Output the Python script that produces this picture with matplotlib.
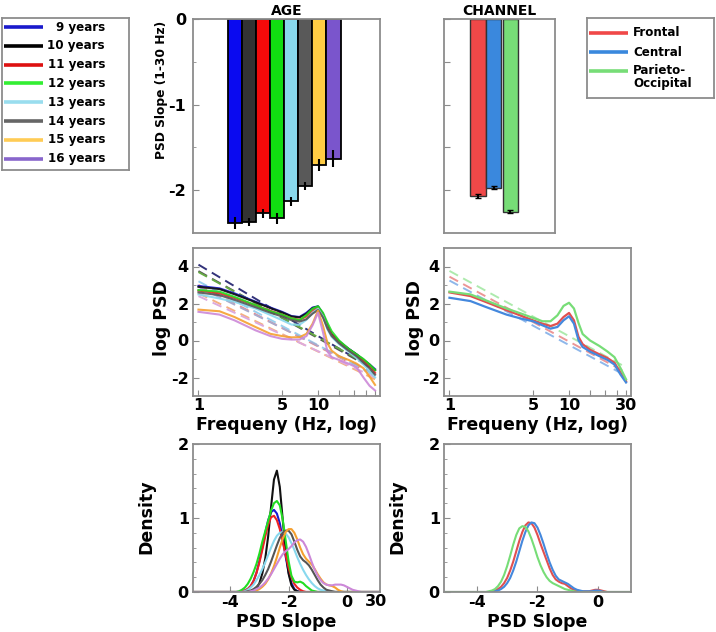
import numpy as np
import matplotlib
matplotlib.use("Agg")
import matplotlib.pyplot as plt

plt.rcParams["font.family"] = ["DejaVu Sans"]
plt.rcParams["font.weight"] = "bold"
plt.rcParams["axes.unicode_minus"] = False

# ---- top bar charts: PSD slope (1-30 Hz) ----
age_labels = ["9 years", "10 years", "11 years", "12 years",
              "13 years", "14 years", "15 years", "16 years"]
age_slope = [-2.38, -2.37, -2.27, -2.33, -2.13, -1.95, -1.70, -1.63]
age_err = [0.07, 0.05, 0.05, 0.06, 0.05, 0.05, 0.07, 0.10]

chan_labels = ["Frontal", "Central", "Parieto-\nOccipital"]
chan_slope = [-2.07, -1.97, -2.25]
chan_err = [0.02, 0.02, 0.02]

# ---- middle: log PSD vs frequency ----
freqs = [1, 1.5, 2, 3, 4, 5, 6, 7, 8, 9, 10, 11, 12, 13, 15, 18, 21, 24, 27, 30]
age_psd = [
    [2.95, 2.82, 2.55, 2.10, 1.78, 1.55, 1.32, 1.27, 1.50, 1.78, 1.85, 1.45, 0.80, 0.35, -0.05, -0.45, -0.75, -1.05, -1.30, -1.55],
    [2.90, 2.78, 2.50, 2.07, 1.75, 1.52, 1.30, 1.25, 1.45, 1.75, 1.83, 1.40, 0.78, 0.33, -0.05, -0.45, -0.75, -1.05, -1.30, -1.60],
    [2.70, 2.55, 2.30, 1.90, 1.60, 1.40, 1.20, 1.12, 1.30, 1.62, 1.75, 1.35, 0.72, 0.30, -0.10, -0.50, -0.80, -1.10, -1.40, -1.75],
    [2.73, 2.64, 2.36, 1.91, 1.58, 1.40, 1.20, 1.10, 1.38, 1.72, 1.85, 1.50, 0.95, 0.50, 0.00, -0.45, -0.75, -1.00, -1.30, -1.60],
    [2.49, 2.27, 2.09, 1.73, 1.38, 1.10, 0.86, 0.85, 1.12, 1.50, 1.72, 1.30, 0.60, 0.20, -0.20, -0.60, -0.95, -1.30, -1.65, -2.00],
    [2.60, 2.45, 2.20, 1.80, 1.50, 1.30, 1.10, 1.02, 1.15, 1.45, 1.65, 1.25, 0.65, 0.25, -0.15, -0.55, -0.85, -1.20, -1.50, -1.85],
    [1.67, 1.58, 1.27, 0.73, 0.36, 0.24, 0.17, 0.18, 0.36, 0.90, 1.62, 0.80, -0.15, -0.55, -0.85, -1.05, -1.25, -1.50, -1.95, -2.40],
    [1.55, 1.40, 1.09, 0.55, 0.24, 0.09, 0.05, 0.05, 0.24, 0.82, 1.50, 0.45, -0.60, -0.90, -1.05, -1.25, -1.45, -2.00, -2.45, -2.70],
]
age_fit_start = [4.10, 3.75, 3.00, 3.70, 3.20, 2.90, 2.55, 2.40]
age_fit_end = [-1.60, -1.60, -1.90, -1.50, -1.90, -1.80, -2.10, -2.00]

chan_psd = [
    [2.60, 2.40, 2.09, 1.64, 1.33, 1.09, 0.91, 0.78, 0.91, 1.27, 1.49, 1.09, 0.20, -0.20, -0.50, -0.75, -0.95, -1.20, -1.75, -2.20],
    [2.31, 2.13, 1.82, 1.40, 1.18, 1.04, 0.82, 0.64, 0.73, 1.09, 1.31, 0.91, 0.02, -0.35, -0.60, -0.85, -1.05, -1.30, -1.85, -2.27],
    [2.64, 2.49, 2.18, 1.73, 1.45, 1.22, 1.04, 1.04, 1.36, 1.87, 2.04, 1.73, 0.95, 0.35, 0.00, -0.30, -0.60, -0.90, -1.50, -2.10],
]
chan_fit_start = [3.45, 3.24, 3.76]
chan_fit_end = [-1.73, -1.91, -1.45]

# ---- bottom: density of PSD slope ----
dens_x = np.round(np.arange(-3.8, 0.65, 0.1), 1)
age_dens = [
    [0, 0, .01, .02, .04, .08, .15, .26, .42, .60, .80, .97, 1.08, 1.11, 1.06, .93, .72, .48, .27, .12, .04, .01,
     0, 0, 0, 0, 0, 0, 0, 0, 0, 0, 0, 0, 0, 0, 0, 0, 0, 0, 0, 0, 0, 0, 0],
    [0, 0, 0, 0, 0, 0, .02, .05, .12, .25, .45, .75, 1.15, 1.52, 1.64, 1.42, .98, .55, .25, .09, .03, .01,
     0, 0, 0, 0, 0, 0, 0, 0, 0, 0, 0, 0, 0, 0, 0, 0, 0, 0, 0, 0, 0, 0, 0],
    [0, 0, .01, .02, .04, .08, .15, .26, .40, .57, .75, .91, 1.01, 1.03, .97, .85, .68, .50, .33, .20, .11, .06,
     .03, .01, 0, 0, 0, 0, 0, 0, 0, 0, 0, 0, 0, 0, 0, 0, 0, 0, 0, 0, 0, 0, 0],
    [0, .01, .03, .06, .11, .18, .27, .38, .52, .68, .82, .96, 1.10, 1.20, 1.23, 1.17, .98, .70, .42, .22, .14, .13,
     .14, .12, .08, .05, .02, .01, 0, 0, 0, 0, 0, 0, 0, 0, 0, 0, 0, 0, 0, 0, 0, 0, 0],
    [0, 0, 0, .01, .03, .06, .10, .16, .23, .31, .40, .50, .60, .69, .76, .80, .81, .79, .74, .66, .57, .47,
     .38, .30, .23, .17, .12, .08, .05, .03, .02, .01, 0, 0, 0, 0, 0, 0, 0, 0, 0, 0, 0, 0, 0],
    [0, 0, 0, 0, .01, .02, .04, .07, .11, .16, .23, .31, .41, .52, .63, .73, .80, .83, .83, .78, .68, .57,
     .48, .43, .40, .36, .30, .23, .16, .10, .06, .03, .02, .01, 0, 0, 0, 0, 0, 0, 0, 0, 0, 0, 0],
    [0, 0, 0, 0, 0, 0, .01, .02, .04, .07, .11, .17, .25, .35, .47, .60, .72, .81, .85, .85, .80, .71,
     .60, .51, .45, .41, .37, .31, .24, .18, .13, .10, .09, .08, .06, .03, .01, 0, 0, 0, 0, 0, 0, 0, 0],
    [0, 0, 0, 0, 0, .01, .02, .04, .06, .09, .13, .18, .24, .31, .38, .45, .51, .55, .58, .62, .67, .70,
     .71, .68, .61, .51, .40, .30, .22, .16, .12, .10, .09, .09, .10, .10, .10, .09, .07, .05, .03, .02, .01, 0, 0],
]
chan_dens = [
    [0, 0, 0, .01, .02, .04, .07, .12, .19, .29, .41, .55, .69, .81, .90, .94, .93, .87, .77, .65, .54, .43,
     .32, .23, .17, .14, .12, .11, .08, .05, .03, .02, .01, .01, .01, .01, .02, .03, .03, .02, .01, 0, 0, 0, 0],
    [0, 0, 0, 0, .01, .02, .04, .07, .12, .19, .29, .41, .55, .69, .81, .90, .94, .93, .87, .77, .65, .52,
     .40, .30, .22, .17, .15, .13, .11, .08, .05, .03, .02, .01, .01, .01, .01, .02, .02, .01, 0, 0, 0, 0, 0],
    [0, 0, .01, .02, .04, .08, .14, .23, .35, .49, .64, .77, .86, .89, .88, .82, .72, .60, .47, .36, .27, .20,
     .15, .12, .10, .08, .06, .04, .03, .02, .01, 0, 0, 0, 0, 0, 0, 0, 0, 0, 0, 0, 0, 0, 0],
]

# colours
age_bar_colors = ["#0a0af0", "#333333", "#f50a0a", "#11dd11", "#88d8ec", "#595959", "#ffcc44", "#7a55cc"]
age_leg_colors = ["#1a1acc", "#000000", "#dd1111", "#33ee33", "#99ddee", "#666666", "#ffcc55", "#8866cc"]
age_line_colors = ["#1a1ad0", "#111111", "#ee2222", "#22dd22", "#88d8ee", "#555555", "#f5a030", "#cc88d8"]
age_fit_colors = ["#33337a", "#555555", "#ee8888", "#66aa44", "#99d0ee", "#aaaacc", "#f5b080", "#ddaadd"]
chan_bar_colors = ["#f04848", "#3a88dd", "#77dd77"]
chan_line_colors = ["#e05050", "#4488dd", "#77dd77"]

spine_c = "#8c8c8c"
W, H = 716, 632


def box(l, t, r, b):
    return [l / W, 1 - b / H, (r - l) / W, (b - t) / H]


def style(ax, xpad=1.5, ypad=3, size=11.5):
    for s in ax.spines.values():
        s.set_color(spine_c)
        s.set_linewidth(1.3)
    ax.tick_params(which="both", direction="in", color=spine_c, labelsize=size)
    ax.tick_params(axis="x", pad=xpad)
    ax.tick_params(axis="y", pad=ypad)
    ax.tick_params(which="major", length=4)
    ax.tick_params(which="minor", length=2.5)
    for t in ax.get_xticklabels() + ax.get_yticklabels():
        t.set_fontweight("bold")


def place_labels(ax, ylab, yx, yy, xlab=None, xy=None):
    tf = fig.transFigure
    ax.set_ylabel(ylab[0], fontsize=ylab[1], fontweight="bold")
    ax.yaxis.set_label_coords(yx / W, 1 - yy / H, transform=tf)
    if xlab is not None:
        ax.set_xlabel(xlab, fontsize=12.5, fontweight="bold")
        pos = ax.get_position()
        ax.xaxis.set_label_coords(pos.x0 + pos.width / 2, 1 - xy / H, transform=tf)


fig = plt.figure(figsize=(7.16, 6.32), dpi=100)

# AGE bars
ax1 = fig.add_axes(box(193, 19, 380, 233))
xa = np.arange(1, len(age_slope) + 1)
ax1.bar(xa, age_slope, width=1.0, color=age_bar_colors, edgecolor="black", linewidth=1.3)
ax1.errorbar(xa, age_slope, yerr=age_err, fmt="none", ecolor="black", elinewidth=1.5, capsize=0)
ax1.set_xlim(-1.96, 11.3)
ax1.set_ylim(-2.5, 0)
ax1.set_xticks([])
ax1.set_yticks([0, -1, -2])
ax1.set_yticks([-0.5, -1.5], minor=True)
ax1.set_yticklabels(["0", "-1", "-2"])
ax1.set_title("AGE", fontsize=10, fontweight="bold", pad=3)
style(ax1, ypad=5)
place_labels(ax1, ("PSD Slope (1-30 Hz)", 8.8), 168, 90)

# CHANNEL bars
ax2 = fig.add_axes(box(444, 19, 555, 233))
xc = [1, 2, 3.08]
ax2.bar(xc, chan_slope, width=1.0, color=chan_bar_colors, edgecolor="#333333", linewidth=1.0)
ax2.errorbar(xc, chan_slope, yerr=chan_err, fmt="none", ecolor="black", elinewidth=1.5, capsize=2)
ax2.set_xlim(-1.2, 5.95)
ax2.set_ylim(-2.5, 0)
ax2.set_xticks([])
ax2.set_yticks([0, -0.5, -1, -1.5, -2])
ax2.set_yticklabels([])
ax2.set_title("CHANNEL", fontsize=10, fontweight="bold", pad=3)
style(ax2)

# PSD panels
fticks = [1, 5, 10, 15, 20, 25, 30]
ax3 = fig.add_axes(box(193, 248, 380, 396))
for i in range(len(age_psd)):
    ax3.plot([1, 30], [age_fit_start[i], age_fit_end[i]], ls=(0, (5, 3)), color=age_fit_colors[i], lw=1.4)
for i in range(len(age_psd)):
    ax3.plot(freqs, age_psd[i], color=age_line_colors[i], lw=1.5, alpha=0.9)
ax3.set_xscale("log")
ax3.set_xlim(0.9, 33)
ax3.set_ylim(-3, 5)
ax3.set_xticks(fticks)
ax3.set_xticklabels(["1", "5", "10", "", "", "", ""])
ax3.xaxis.set_minor_locator(plt.NullLocator())
ax3.set_yticks([4, 2, 0, -2])
ax3.set_yticks([3, 1, -1], minor=True)
style(ax3)
place_labels(ax3, ("log PSD", 12.5), 171, 318, "Frequeny (Hz, log)", 416)

ax4 = fig.add_axes(box(444, 248, 631, 396))
for i in range(len(chan_psd)):
    ax4.plot([1, 30], [chan_fit_start[i], chan_fit_end[i]], ls=(0, (5, 3)), color=chan_line_colors[i], lw=1.4, alpha=0.6)
for i in range(len(chan_psd)):
    ax4.plot(freqs, chan_psd[i], color=chan_line_colors[i], lw=1.6)
ax4.set_xscale("log")
ax4.set_xlim(0.9, 33)
ax4.set_ylim(-3, 5)
ax4.set_xticks(fticks)
ax4.set_xticklabels(["1", "5", "10", "", "", "", "30"])
ax4.xaxis.set_minor_locator(plt.NullLocator())
ax4.set_yticks([4, 2, 0, -2])
ax4.set_yticks([3, 1, -1], minor=True)
style(ax4)
place_labels(ax4, ("log PSD", 12.5), 424, 318, "Frequeny (Hz, log)", 416)

# density panels
ax5 = fig.add_axes(box(193, 444, 380, 592))
for i in range(len(age_dens)):
    ax5.plot(np.r_[-5.3, dens_x, 1.15], np.r_[0, age_dens[i], 0], color=age_line_colors[i], lw=1.5)
ax5.set_xlim(-5.28, 1.14)
ax5.set_ylim(0, 2)
ax5.set_xticks([-4, -2, 0])
ax5.set_yticks([0, 1, 2])
ax5.set_yticks(np.arange(0.2, 2.0, 0.2), minor=True)
style(ax5, xpad=2)
place_labels(ax5, ("Density", 12.5), 155, 517, "PSD Slope", 613)

ax6 = fig.add_axes(box(444, 444, 631, 592))
for i in range(len(chan_dens)):
    ax6.plot(np.r_[-5.1, dens_x, 1.1], np.r_[0, chan_dens[i], 0], color=chan_line_colors[i], lw=1.5)
ax6.set_xlim(-5.08, 1.08)
ax6.set_ylim(0, 2)
ax6.set_xticks([-4, -2, 0])
ax6.set_yticks([0, 1, 2])
ax6.set_yticks(np.arange(0.2, 2.0, 0.2), minor=True)
style(ax6, xpad=2)
place_labels(ax6, ("Density", 12.5), 406, 517, "PSD Slope", 613)

# stray "30" label seen in the original figure
fig.text(376 / W, 1 - 601 / H, "30", fontsize=11.5, fontweight="bold", ha="center", va="center")

# legend boxes drawn by hand so the frame matches the original
lg1 = fig.add_axes(box(2, 18, 129, 170))
lg1.set_xlim(0, 127)
lg1.set_ylim(152, 0)
lg1.set_xticks([])
lg1.set_yticks([])
for s in lg1.spines.values():
    s.set_color(spine_c)
    s.set_linewidth(1.3)
for i, (lab, c) in enumerate(zip(age_labels, age_leg_colors)):
    yy = 9 + 18.8 * i
    lg1.plot([2, 41], [yy, yy], color=c, lw=2.6, solid_capstyle="butt")
    lg1.text(103, yy, lab, fontsize=8.6, fontweight="bold", ha="right", va="center")

lg2 = fig.add_axes(box(587, 18, 714, 98))
lg2.set_xlim(0, 127)
lg2.set_ylim(80, 0)
lg2.set_xticks([])
lg2.set_yticks([])
for s in lg2.spines.values():
    s.set_color(spine_c)
    s.set_linewidth(1.3)
for lab, c, yy, ty in zip(chan_labels, chan_bar_colors, [15, 34, 53], [15, 34, 59]):
    lg2.plot([2, 41], [yy, yy], color=c, lw=2.6, solid_capstyle="butt")
    lg2.text(46, ty, lab, fontsize=8.6, fontweight="bold", ha="left", va="center", linespacing=0.95)

fig.savefig("out.png", dpi=100)
